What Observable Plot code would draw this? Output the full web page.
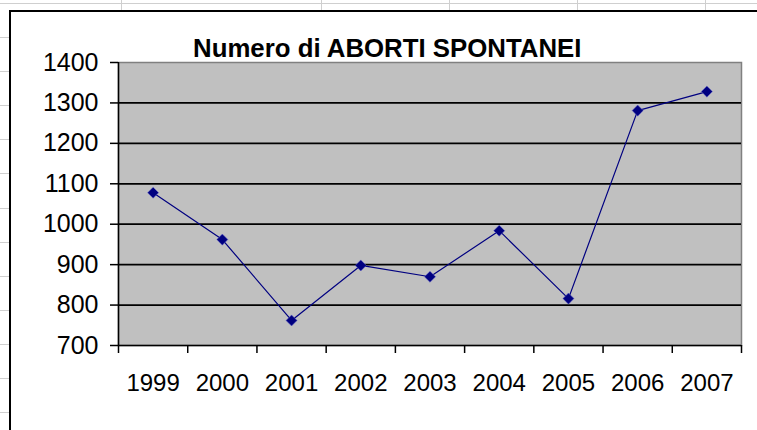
<!DOCTYPE html>
<html>
<head>
<meta charset="utf-8">
<script src="https://cdn.jsdelivr.net/npm/d3@7"></script>
<script src="https://cdn.jsdelivr.net/npm/@observablehq/plot@0.6"></script>
<style>
  html, body { margin: 0; padding: 0; background: #fff; }
  #page {
    position: relative; width: 757px; height: 430px; overflow: hidden;
    background-image: repeating-linear-gradient(to bottom, #cfcfcf 0 1px, transparent 1px 34.1px);
    background-position: 0 3px;
  }
  .col { position: absolute; top: 0; width: 1px; height: 12px; background: #cfcfcf; }
  #box {
    position: absolute; left: 9px; top: 10px; width: 800px; height: 500px;
    background: #fff; border-left: 2px solid #000; border-top: 2px solid #000;
  }
  #title {
    position: absolute; left: 193px; top: 36px; margin: 0;
    font: bold 25.8px "Liberation Sans", Arial, sans-serif; line-height: 25.8px;
    color: #000; white-space: nowrap;
  }
  #chart { position: absolute; left: 0; top: 0; }
</style>
</head>
<body>
<div id="page">
  <div class="col" style="left:121px"></div>
  <div class="col" style="left:321px"></div>
  <div class="col" style="left:449px"></div>
  <div class="col" style="left:577px"></div>
  <div class="col" style="left:705px"></div>
  <div id="box"></div>
  <div id="chart"></div>
  <div id="title">Numero di ABORTI SPONTANEI</div>
</div>
<script>
const years = [1999, 2000, 2001, 2002, 2003, 2004, 2005, 2006, 2007];
const values = [1078, 962, 762, 898, 870, 984, 816, 1281, 1328];
const yTicks = [700, 800, 900, 1000, 1100, 1200, 1300, 1400];
const yDomain = [700, 1400];

const data = years.map((year, i) => ({year, value: values[i]}));
const xDomain = [years[0] - 0.5, years[years.length - 1] + 0.5];
const boundaries = [...years.map(y => y - 0.5), years[years.length - 1] + 0.5];
const innerTicks = yTicks.slice(1, -1);

const chart = Plot.plot({
  width: 757,
  height: 430,
  marginLeft: 118,
  marginRight: 16,
  marginTop: 62,
  marginBottom: 85,
  style: {background: "transparent", fontFamily: "'Liberation Sans', Arial, sans-serif", color: "#000", overflow: "visible"},
  x: {type: "linear", domain: xDomain, axis: null, label: null},
  y: {domain: yDomain, axis: null, label: null},
  marks: [
    Plot.frame({fill: "#c0c0c0", stroke: "#808080", strokeWidth: 1.5}),
    Plot.gridY(innerTicks, {stroke: "#000", strokeOpacity: 1, strokeWidth: 1.8}),
    Plot.ruleX([xDomain[0]], {stroke: "#000", strokeWidth: 1.5}),
    Plot.ruleY([yDomain[0]], {stroke: "#000", strokeWidth: 1.5}),
    Plot.axisY({ticks: yTicks, label: null, tickSize: 8, tickPadding: 12, fontSize: 25, stroke: "#000", strokeWidth: 1.5, fill: "#000", tickFormat: d => String(d)}),
    Plot.axisX({ticks: boundaries, label: null, tickSize: 8, tickFormat: () => "", stroke: "#000", strokeWidth: 1.5}),
    Plot.axisX({ticks: years, label: null, tickSize: 0, tickPadding: 28, fontSize: 24, fill: "#000", tickFormat: d => String(d)}),
    Plot.line(data, {x: "year", y: "value", stroke: "#000080", strokeWidth: 1.2}),
    Plot.dot(data, {x: "year", y: "value", symbol: "diamond2", r: 5, fill: "#000080", stroke: "#6a6ad0", strokeOpacity: 0.5, strokeWidth: 1})
  ]
});
document.getElementById("chart").appendChild(chart);
</script>
</body>
</html>
